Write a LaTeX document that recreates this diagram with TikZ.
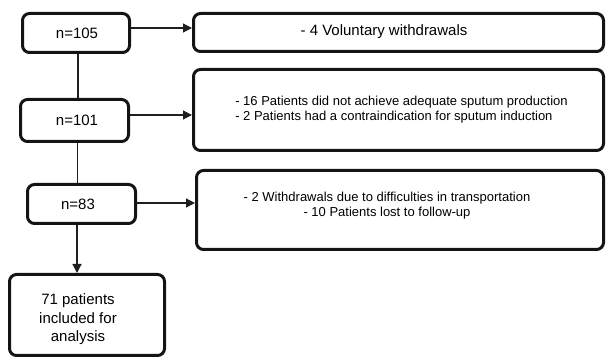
\documentclass[tikz,border=0pt]{standalone}
\usepackage{fontspec}
\setmainfont{Liberation Sans}
\usetikzlibrary{arrows.meta}
\begin{document}
\begin{tikzpicture}[x=1pt,y=1pt,
  box/.style={draw=black!92, line width=3pt, rounded corners=7pt, inner sep=0pt, align=center},
  conn/.style={draw=black!88, line width=1.2pt},
  arr/.style={conn, -{Triangle[length=9pt,width=9pt]}},
  bigtext/.style={font=\fontsize{15}{18.5}\selectfont},
  smalltext/.style={font=\fontsize{13}{15.2}\selectfont}]
\useasboundingbox (0,0) rectangle (606,359);
\node[box, minimum width=107pt, minimum height=39pt] (b105) at (76,326) {};
\node[bigtext] (t105) at (77,326) {n=105};
\node[box, minimum width=410pt, minimum height=38pt] (r1) at (398.5,326.5) {};
\node[bigtext] (t1) at (384,327) {- 4 Voluntary withdrawals};
\node[box, minimum width=108pt, minimum height=42pt] (b101) at (74.5,238.5) {};
\node[bigtext] (t101) at (77,239) {n=101};
\node[box, minimum width=410pt, minimum height=81pt] (r2) at (398.5,249) {};
\node[smalltext, align=left] (t2) at (401.5,249.5) {- 16 Patients did not achieve adequate sputum production\\- 2 Patients had a contraindication for sputum induction};
\node[box, minimum width=108pt, minimum height=39pt] (b83) at (81.5,155) {};
\node[bigtext] (t83) at (78,155) {n=83};
\node[box, minimum width=407pt, minimum height=79pt] (r3) at (400,149) {};
\node[smalltext, align=center] (t3) at (387,153.5) {- 2 Withdrawals due to difficulties in transportation\\- 10 Patients lost to follow-up};
\node[box, minimum width=155pt, minimum height=81pt] (fin) at (87,44) {};
\node[bigtext, align=center] (tfin) at (78,39.5) {71 patients\\included for\\analysis};
\draw[conn] ([xshift=2pt]b105.south) -- ([xshift=2pt]b105.south |- b101.north);
\draw[conn] ([xshift=3pt]b101.south) -- ([xshift=3pt]b101.south |- b83.north);
\draw[arr] ([yshift=5pt]b105.east) -- ([yshift=5pt]b105.east -| r1.west);
\draw[arr] ([yshift=5.5pt]b101.east) -- ([yshift=5.5pt]b101.east -| r2.west);
\draw[arr] ([yshift=1pt]b83.east) -- ([yshift=1pt]b83.east -| r3.west);
\draw[arr] ([xshift=-4.5pt]b83.south) -- ([xshift=-4.5pt]b83.south |- fin.north);
\end{tikzpicture}
\end{document}
